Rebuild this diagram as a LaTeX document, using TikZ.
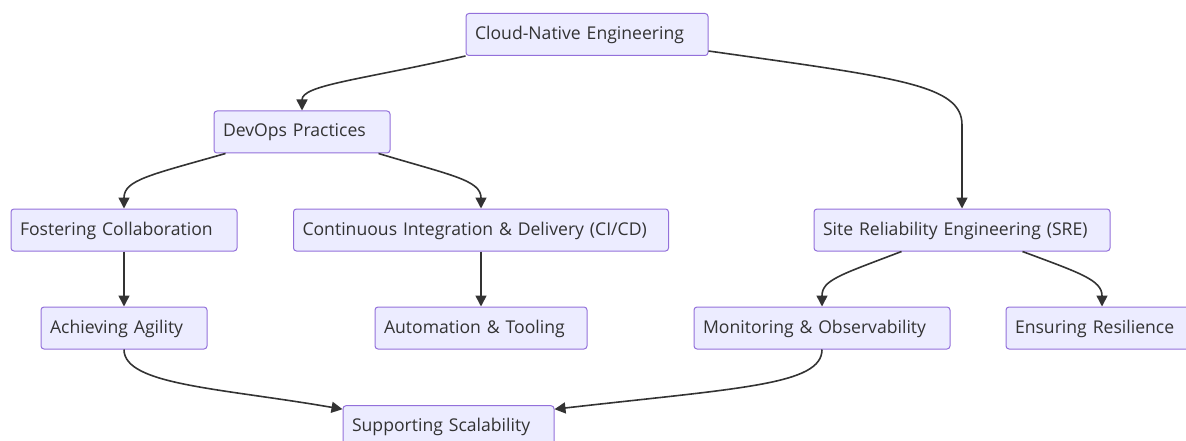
\documentclass[tikz,border=0pt]{standalone}
\usepackage{fontspec}
\setmainfont{Open Sans}
\usetikzlibrary{arrows.meta}
\definecolor{boxfill}{HTML}{ECECFF}
\definecolor{boxline}{HTML}{9370DB}
\definecolor{ink}{HTML}{333333}

\begin{document}
\begin{tikzpicture}[x=1pt, y=-1pt,
    box/.style={rectangle, rounded corners=3pt, fill=boxfill, draw=boxline, line width=1pt,
      minimum height=42pt, inner xsep=9pt, inner ysep=0pt, align=left, text=ink,
      text height=13pt, text depth=3pt,
      font=\fontsize{17.6}{20}\selectfont},
    link/.style={draw=ink, line width=1.6pt, -{Triangle[length=11pt,width=11pt]}}]
  \useasboundingbox (0,0) rectangle (1186,441);
  \node[box, text width=224pt] (cne) at (587,34.5) {Cloud-Native Engineering};
  \node[box, text width=158pt] (dev) at (302,132) {DevOps Practices};
  \node[box, text width=208pt] (fc) at (124,230) {Fostering Collaboration};
  \node[box, text width=357pt] (cicd) at (481,230) {Continuous Integration \& Delivery (CI/CD)};
  \node[box, text width=278pt] (sre) at (962,230) {Site Reliability Engineering (SRE)};
  \node[box, text width=148pt] (aa) at (124,328) {Achieving Agility};
  \node[box, text width=194pt] (at) at (481,328) {Automation \& Tooling};
  \node[box, text width=238pt] (mo) at (822,328) {Monitoring \& Observability};
  \node[box, text width=174pt] (er) at (1102,328) {Ensuring Resilience};
  \node[box, text width=193pt] (ss) at (448.5,426.7) {Supporting Scalability};

  \draw[link] (cne.south west) .. controls (360,80) and (302,85) .. (dev.north);
  \draw[link] ([yshift=5pt]cne.south east) .. controls (900,78) and (962,85) .. (962,125) -- (sre.north);
  \draw[link] ([xshift=12pt]dev.south west) .. controls (150,175) and (124,180) .. (fc.north);
  \draw[link] ([xshift=-12pt]dev.south east) .. controls (450,175) and (481,180) .. (cicd.north);
  \draw[link] (fc) -- (aa);
  \draw[link] (cicd) -- (at);
  \draw[link] ([xshift=88pt]sre.south west) .. controls (840,275) and (822,280) .. (mo.north);
  \draw[link] ([xshift=-88pt]sre.south east) .. controls (1080,273) and (1102,280) .. (er.north);
  \draw[link] (aa.south) .. controls (124,385) and (220,388) .. ([yshift=-4pt]ss.north west);
  \draw[link] (mo.south) .. controls (822,385) and (740,388) .. ([yshift=-4pt]ss.north east);
\end{tikzpicture}
\end{document}
